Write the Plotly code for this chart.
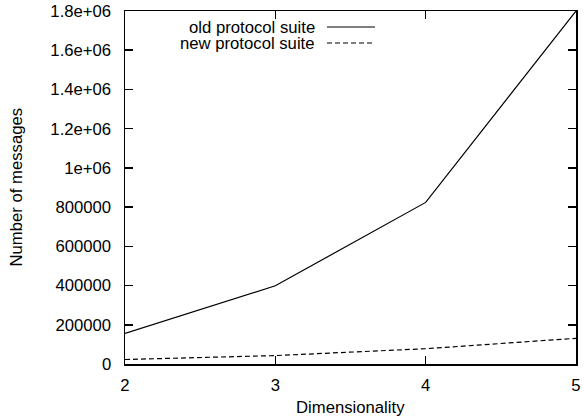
import plotly.graph_objects as go

dimensionality = [2, 3, 4, 5]
old_suite = [156000, 399000, 824000, 1800000]
new_suite = [23000, 43000, 78000, 131000]
series_names = ["old protocol suite", "new protocol suite"]
y_tickvals = [0, 200000, 400000, 600000, 800000, 1000000, 1200000, 1400000, 1600000, 1800000]
y_ticktext = ["0", "200000", "400000", "600000", "800000", "1e+06", "1.2e+06", "1.4e+06", "1.6e+06", "1.8e+06"]
x_tickvals = [2, 3, 4, 5]

W, H = 584, 419
L, R, T, B = 125, 576, 11, 364
FONT = "Liberation Sans, Arial, Helvetica, sans-serif"
FS = 16.7

def px_x(p):
    return (p - L) / (R - L)

def px_y(p):
    return (B - p) / (B - T)

fig = go.Figure()
fig.add_trace(go.Scatter(x=dimensionality, y=old_suite, mode="lines",
                         line=dict(color="black", width=1.2), name=series_names[0],
                         showlegend=False, hoverinfo="skip"))
fig.add_trace(go.Scatter(x=dimensionality, y=new_suite, mode="lines",
                         line=dict(color="black", width=1.2, dash="5px,3px"), name=series_names[1],
                         showlegend=False, hoverinfo="skip"))

axis_common = dict(showline=True, linecolor="black", linewidth=1.5, mirror="allticks",
                   ticks="inside", ticklen=8, tickwidth=1.5, tickcolor="black",
                   showgrid=False, zeroline=False, ticklabeloverflow="allow", automargin=False,
                   tickfont=dict(family=FONT, size=FS, color="black"))

fig.update_xaxes(range=[2, 5], tickvals=x_tickvals, ticktext=[str(v) for v in x_tickvals],
                 ticklabelstandoff=5, **axis_common)
fig.update_yaxes(range=[0, 1800000], tickvals=y_tickvals, ticktext=y_ticktext,
                 ticklabelstandoff=9, **axis_common)

annotations = [
    dict(text="Dimensionality", xref="paper", yref="paper", x=0.5, y=0, yshift=-(407 - B),
         xanchor="center", yanchor="middle", showarrow=False,
         font=dict(family=FONT, size=FS, color="black")),
    dict(text="Number of messages", xref="paper", yref="paper", x=0, y=0.5, xshift=16 - L,
         xanchor="center", yanchor="middle", textangle=-90, showarrow=False,
         font=dict(family=FONT, size=FS, color="black")),
]
shapes = []
legend_rows = [(series_names[0], 27, None), (series_names[1], 43, "5px,3px")]
for name, ypix, dash in legend_rows:
    annotations.append(dict(text=name, xref="paper", yref="paper", x=px_x(317), y=px_y(ypix + 1),
                            xanchor="right", yanchor="middle", showarrow=False,
                            font=dict(family=FONT, size=FS, color="black")))
    line = dict(color="black", width=1.2)
    if dash:
        line["dash"] = dash
    shapes.append(dict(type="line", xref="paper", yref="paper",
                       x0=px_x(327), x1=px_x(375), y0=px_y(ypix), y1=px_y(ypix), line=line))

fig.update_layout(width=W, height=H, margin=dict(l=L, r=W - R, t=T, b=H - B, autoexpand=False),
                  plot_bgcolor="white", paper_bgcolor="white",
                  annotations=annotations, shapes=shapes, showlegend=False,
                  font=dict(family=FONT, size=FS, color="black"))

fig.write_html("out.html", config={"displayModeBar": False, "staticPlot": True},
               post_script="document.body.style.margin='0px';document.body.style.overflow='hidden';")
